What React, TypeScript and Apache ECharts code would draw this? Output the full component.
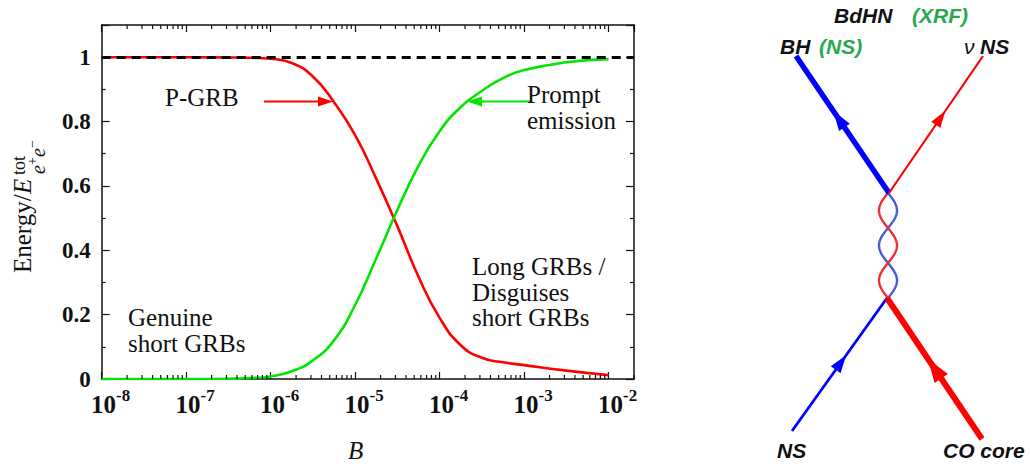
import React, { useEffect, useRef } from 'react';
import * as echarts from 'echarts';

// ---- data ----
const B = [1e-8, 1e-7, 3.16e-7, 5.62e-7, 1e-6, 1.78e-6, 3.16e-6, 5.62e-6, 1e-5, 1.78e-5, 3.16e-5, 5.62e-5, 1e-4, 1.78e-4, 3.16e-4, 5.62e-4, 1e-3, 3.16e-3, 1e-2];
const pGRB = [1, 1, 0.999, 0.998, 0.995, 0.982, 0.94, 0.86, 0.758, 0.622, 0.475, 0.318, 0.19, 0.105, 0.066, 0.052, 0.043, 0.026, 0.012];
const promptEmission = [0, 0, 0.001, 0.003, 0.008, 0.024, 0.058, 0.12, 0.23, 0.375, 0.525, 0.662, 0.77, 0.845, 0.895, 0.935, 0.96, 0.984, 0.994];
const xMin = 1e-8;
const xMax = 0.02;
const yMin = 0;
const yMax = 1.1;
const yInterval = 0.2;
const totalLevel = 1;
const minorMantissas = [2, 3, 4, 5, 6, 7, 8, 9];
const decadeExponents = [-8, -7, -6, -5, -4, -3, -2];

const SERIF = 'Liberation Serif';
const SANS = 'Liberation Sans';

function arrowHead(x1: number, y1: number, x2: number, y2: number, t: number, len: number, w: number, color: string) {
  const dx = x2 - x1, dy = y2 - y1;
  const L = Math.hypot(dx, dy);
  const ux = dx / L, uy = dy / L;
  const tx = x1 + dx * t, ty = y1 + dy * t;
  const bx = tx - ux * len, by = ty - uy * len;
  const px = -uy, py = ux;
  return {
    type: 'polygon',
    shape: { points: [[tx, ty], [bx + px * w / 2, by + py * w / 2], [bx - px * w / 2, by - py * w / 2]] },
    style: { fill: color },
    z: 20,
  };
}

function wave(x0: number, yTop: number, yBot: number, amp: number, halfPeriods: number, sign: number) {
  const pts: number[][] = [];
  const n = 90;
  for (let i = 0; i <= n; i++) {
    const y = yTop + (yBot - yTop) * i / n;
    const x = x0 + (sign * amp) * Math.sin(Math.PI * halfPeriods * i / n);
    pts.push([x, y]);
  }
  return pts;
}

function txt(text: string, x: number, y: number, o: any = {}) {
  return {
    type: 'text', x, y, z: 30,
    style: {
      text, fontFamily: o.fontFamily || SERIF, fontSize: o.fontSize || 26,
      fontStyle: o.fontStyle || 'normal', fontWeight: o.fontWeight || 'normal',
      lineHeight: o.lineHeight || undefined,
      fill: o.fill || '#111', textAlign: o.align || 'left', textVerticalAlign: o.valign || 'middle',
    },
  };
}

export default function App() {
  const ref = useRef<HTMLDivElement>(null);
  useEffect(() => {
    if (!ref.current) return;
    const chart = echarts.init(ref.current, null, { renderer: 'svg' });
    const axisLineStyle = { color: '#111', width: 1.5 };
    const xLabel = {
      showMaxLabel: false,
      margin: 8,
      padding: [0, 0, 0, 18],
      formatter: (v: number) => `{b|10}{s|${Math.round(Math.log10(v))}}`,
      rich: {
        b: { fontFamily: SERIF, fontWeight: 'bold', fontSize: 25, color: '#111', lineHeight: 30, verticalAlign: 'bottom' },
        s: { fontFamily: SERIF, fontWeight: 'bold', fontSize: 17, color: '#111', lineHeight: 30, verticalAlign: 'top' },
      },
    };
    const option: any = {
      animation: false,
      grid: { left: 101.7, top: 25, right: 396, bottom: 92, containLabel: false },
      xAxis: [
        {
          type: 'log', logBase: 10, min: xMin, max: xMax, splitNumber: 6,
          axisLine: { show: true, lineStyle: axisLineStyle },
          axisTick: { show: true, inside: true, length: 7, lineStyle: { color: '#111', width: 1.2 } },
          minorTick: { show: false }, splitLine: { show: false },
          axisLabel: xLabel,
        },
        {
          type: 'log', logBase: 10, min: xMin, max: xMax, splitNumber: 6, position: 'top',
          axisLine: { show: true, onZero: false, lineStyle: axisLineStyle },
          axisTick: { show: true, inside: true, length: 7, lineStyle: { color: '#111', width: 1.2 } },
          minorTick: { show: false }, splitLine: { show: false }, axisLabel: { show: false },
        },
      ],
      yAxis: [
        {
          type: 'value', min: yMin, max: yMax, interval: yInterval,
          axisLine: { show: true, lineStyle: axisLineStyle },
          axisTick: { show: true, inside: true, length: 8, lineStyle: { color: '#111', width: 1.2 } },
          minorTick: { show: true, splitNumber: 2, length: 4, lineStyle: { color: '#111', width: 1.2 } },
          splitLine: { show: false },
          axisLabel: { showMaxLabel: false, margin: 11, fontFamily: SERIF, fontWeight: 'bold', fontSize: 23, color: '#111' },
        },
        {
          type: 'value', min: yMin, max: yMax, interval: yInterval, position: 'right',
          axisLine: { show: true, onZero: false, lineStyle: axisLineStyle },
          axisTick: { show: true, inside: true, length: 8, lineStyle: { color: '#111', width: 1.2 } },
          minorTick: { show: true, splitNumber: 2, length: 4, lineStyle: { color: '#111', width: 1.2 } },
          splitLine: { show: false }, axisLabel: { show: false },
        },
      ],
      series: [
        {
          name: 'P-GRB', type: 'line', xAxisIndex: 0, yAxisIndex: 0,
          data: B.map((b, i) => [b, pGRB[i]]),
          smooth: 0.5, showSymbol: false,
          lineStyle: { color: '#ff0000', width: 2.6 }, itemStyle: { color: '#ff0000' },
        },
        {
          name: 'Prompt emission', type: 'line', xAxisIndex: 0, yAxisIndex: 0,
          data: B.map((b, i) => [b, promptEmission[i]]),
          smooth: 0.5, showSymbol: false,
          lineStyle: { color: '#00e600', width: 2.6 }, itemStyle: { color: '#00e600' },
          markLine: {
            silent: true, symbol: ['none', 'none'], label: { show: false }, z: 6,
            lineStyle: { color: '#000', type: [9, 6], width: 3.2 },
            data: [{ yAxis: totalLevel }],
          },
        },
      ],
    };
    chart.setOption(option);

    const gTop = 25, gBot = 379;
    const g: any[] = [];
    decadeExponents.forEach((e) => {
      minorMantissas.forEach((m) => {
        const v = m * Math.pow(10, e);
        if (v > xMax) return;
        const px = chart.convertToPixel({ xAxisIndex: 0 }, v) as number;
        g.push({ type: 'line', z: 10, shape: { x1: px, y1: gBot, x2: px, y2: gBot - 4 }, style: { stroke: '#111', lineWidth: 1.2 } });
        g.push({ type: 'line', z: 10, shape: { x1: px, y1: gTop, x2: px, y2: gTop + 4 }, style: { stroke: '#111', lineWidth: 1.2 } });
      });
    });

    // annotations in the plot
    const ann = { fontSize: 25, lineHeight: 25.5 };
    g.push(txt('P-GRB', 165, 97, ann));
    g.push({ type: 'line', z: 20, shape: { x1: 264, y1: 101.5, x2: 320, y2: 101.5 }, style: { stroke: '#ff0000', lineWidth: 2 } });
    g.push(arrowHead(264, 101.5, 333, 101.5, 1, 15, 10, '#ff0000'));
    g.push(txt('Prompt\nemission', 527, 107.5, ann));
    g.push({ type: 'line', z: 20, shape: { x1: 530, y1: 101.5, x2: 480, y2: 101.5 }, style: { stroke: '#00e600', lineWidth: 2 } });
    g.push(arrowHead(530, 101.5, 467, 101.5, 1, 15, 10, '#00e600'));
    g.push(txt('Genuine\nshort GRBs', 128, 330.5, ann));
    g.push(txt('Long GRBs /\nDisguises\nshort GRBs', 472, 292, ann));
    g.push(txt('B', 348, 450, { fontStyle: 'italic', fontSize: 25 }));

    // y-axis title (rotated)
    g.push({
      type: 'group', x: 31, y: 273, rotation: Math.PI / 2, z: 30,
      children: [
        { type: 'text', x: 0, y: -8.4, style: { text: 'Energy/', fontFamily: SERIF, fontSize: 25, fill: '#111', textVerticalAlign: 'middle' } },
        { type: 'text', x: 79, y: -8.4, style: { text: 'E', fontFamily: SERIF, fontStyle: 'italic', fontSize: 25, fill: '#111', textVerticalAlign: 'middle' } },
        { type: 'text', x: 98, y: -12, style: { text: 'tot', fontFamily: SERIF, fontSize: 18, fill: '#111', textVerticalAlign: 'middle' } },
        { type: 'text', x: 99, y: 7, style: { text: 'e', fontFamily: SERIF, fontStyle: 'italic', fontSize: 20, fill: '#111', textVerticalAlign: 'middle' } },
        { type: 'text', x: 108, y: 1, style: { text: '+', fontFamily: SERIF, fontSize: 14, fill: '#111', textVerticalAlign: 'middle' } },
        { type: 'text', x: 116, y: 7, style: { text: 'e', fontFamily: SERIF, fontStyle: 'italic', fontSize: 20, fill: '#111', textVerticalAlign: 'middle' } },
        { type: 'text', x: 125, y: 1, style: { text: '\u2212', fontFamily: SERIF, fontSize: 14, fill: '#111', textVerticalAlign: 'middle' } },
      ],
    });

    // ---- right-hand diagram ----
    const BLUE = '#0000ff', RED = '#ff0000', GREEN = '#2aa84f';
    const top = { x: 889, y: 193 }, bot = { x: 887, y: 298 };
    g.push({ type: 'line', z: 15, shape: { x1: top.x, y1: top.y, x2: 796, y2: 56 }, style: { stroke: BLUE, lineWidth: 5.5 } });
    g.push({ type: 'line', z: 15, shape: { x1: top.x, y1: top.y, x2: 983, y2: 56 }, style: { stroke: RED, lineWidth: 2.2 } });
    g.push({ type: 'line', z: 15, shape: { x1: bot.x, y1: bot.y, x2: 792, y2: 431 }, style: { stroke: BLUE, lineWidth: 2.8 } });
    g.push({ type: 'line', z: 15, shape: { x1: bot.x, y1: bot.y, x2: 982, y2: 439 }, style: { stroke: RED, lineWidth: 6 } });
    g.push({ type: 'polyline', z: 14, shape: { points: wave(888, 193, 298, 9, 3, 1) }, style: { stroke: '#4a5ad8', lineWidth: 2.4, fill: 'none' } });
    g.push({ type: 'polyline', z: 14, shape: { points: wave(888, 193, 298, 9, 3, -1) }, style: { stroke: '#ec3036', lineWidth: 2.4, fill: 'none' } });
    g.push(arrowHead(top.x, top.y, 796, 56, 0.6, 20, 13, BLUE));
    g.push(arrowHead(top.x, top.y, 983, 56, 0.6, 17, 11, RED));
    g.push(arrowHead(792, 431, bot.x, bot.y, 0.57, 18, 12, BLUE));
    g.push(arrowHead(982, 439, bot.x, bot.y, 0.57, 24, 16, RED));

    const dia = { fontFamily: SANS, fontStyle: 'italic', fontWeight: 'bold', fontSize: 21 };
    g.push(txt('BdHN', 834, 15, dia));
    g.push(txt('(XRF)', 912, 15, { ...dia, fill: GREEN }));
    g.push(txt('BH', 780, 46, dia));
    g.push(txt('(NS)', 819, 46, { ...dia, fill: GREEN }));
    g.push(txt('\u03bd', 964, 46, { fontFamily: SANS, fontStyle: 'italic', fontSize: 21 }));
    g.push(txt('NS', 980, 46, dia));
    g.push(txt('NS', 777, 450, dia));
    g.push(txt('CO core', 943, 450, dia));

    chart.setOption({ graphic: g });
    return () => chart.dispose();
  }, []);
  return <div ref={ref} style={{ position: 'absolute', left: 0, top: 0, width: 1030, height: 471, background: '#fff' }} />;
}
